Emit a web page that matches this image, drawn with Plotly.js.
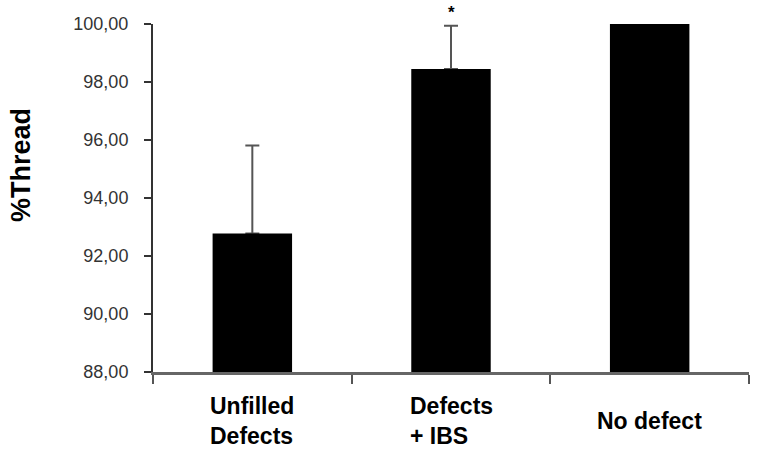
<!DOCTYPE html>
<html>
<head>
<meta charset="utf-8">
<script src="https://cdn.plot.ly/plotly-3.0.1.min.js"></script>
<style>
  html, body { margin: 0; padding: 0; background: #fff; }
  #chart { width: 761px; height: 455px; }
</style>
</head>
<body>
<div id="chart"></div>
<script>
// valeurs
let groups = ['Unfilled Defects', 'Defects + IBS', 'No defect'];
let groupLabels = ['Unfilled<br>Defects', 'Defects<br>+ IBS', 'No defect'];
let thread = [92.78, 98.45, 100.0];
let errUp = [3.03, 1.49, null];
let marks = ['', '*', ''];

let font = 'Liberation Sans, Arial, Helvetica, sans-serif';

// barres transparentes qui portent les barres d'erreur (dessinees dessous)
let errTrace = {
    type: 'bar',
    x: groups,
    y: thread,
    marker: { color: 'rgba(0,0,0,0)' },
    error_y: {
        type: 'data',
        symmetric: false,
        array: errUp,
        arrayminus: [0, 0, 0],
        color: '#555555',
        thickness: 2,
        width: 7
    },
    hoverinfo: 'none'
};

let barTrace = {
    type: 'bar',
    x: groups,
    y: thread,
    marker: { color: '#000000' },
    hoverinfo: 'none'
};

let notes = [];
// noms des groupes sous l'axe
for (let i = 0; i < groups.length; i++) {
    notes.push({
        xref: 'x', yref: 'paper',
        x: groups[i], y: -0.141,
        xanchor: 'center', yanchor: 'middle',
        align: 'left',
        text: '<b>' + groupLabels[i] + '</b>',
        showarrow: false,
        font: { family: font, size: 23, color: '#000' }
    });
    if (marks[i]) {
        notes.push({
            xref: 'x', yref: 'y',
            x: groups[i], y: thread[i] + errUp[i],
            xanchor: 'center', yanchor: 'bottom',
            yshift: 2,
            text: '<b>' + marks[i] + '</b>',
            showarrow: false,
            font: { family: font, size: 17, color: '#000' }
        });
    }
}
// titre de l'axe y
notes.push({
    xref: 'paper', yref: 'paper',
    x: -0.2215, y: 0.595,
    xanchor: 'center', yanchor: 'middle',
    textangle: -90,
    text: '<b>%Thread</b>',
    showarrow: false,
    font: { family: font, size: 27, color: '#000' }
});

let layout = {
    width: 761,
    height: 455,
    margin: { l: 153, r: 12, t: 24, b: 83 },
    paper_bgcolor: '#ffffff',
    plot_bgcolor: '#ffffff',
    separators: ',.',
    showlegend: false,
    barmode: 'overlay',
    bargap: 0.6,
    font: { family: font, color: '#333' },
    xaxis: {
        type: 'category',
        showticklabels: false,
        tickson: 'boundaries',
        ticks: 'outside',
        ticklen: 9,
        tickwidth: 2,
        tickcolor: '#555',
        showline: true,
        linecolor: '#666',
        linewidth: 3,
        showgrid: false,
        zeroline: false,
        fixedrange: true
    },
    yaxis: {
        range: [88, 100],
        dtick: 2,
        tick0: 88,
        tickformat: '.2f',
        ticks: 'outside',
        ticklen: 7,
        tickwidth: 2,
        tickcolor: '#333',
        ticklabelstandoff: 12,
        showline: true,
        linecolor: '#333',
        linewidth: 2,
        showgrid: false,
        zeroline: false,
        tickfont: { family: font, size: 18, color: '#333' },
        fixedrange: true
    },
    annotations: notes
};

Plotly.newPlot('chart', [errTrace, barTrace], layout, { displayModeBar: false, staticPlot: true });
</script>
</body>
</html>
